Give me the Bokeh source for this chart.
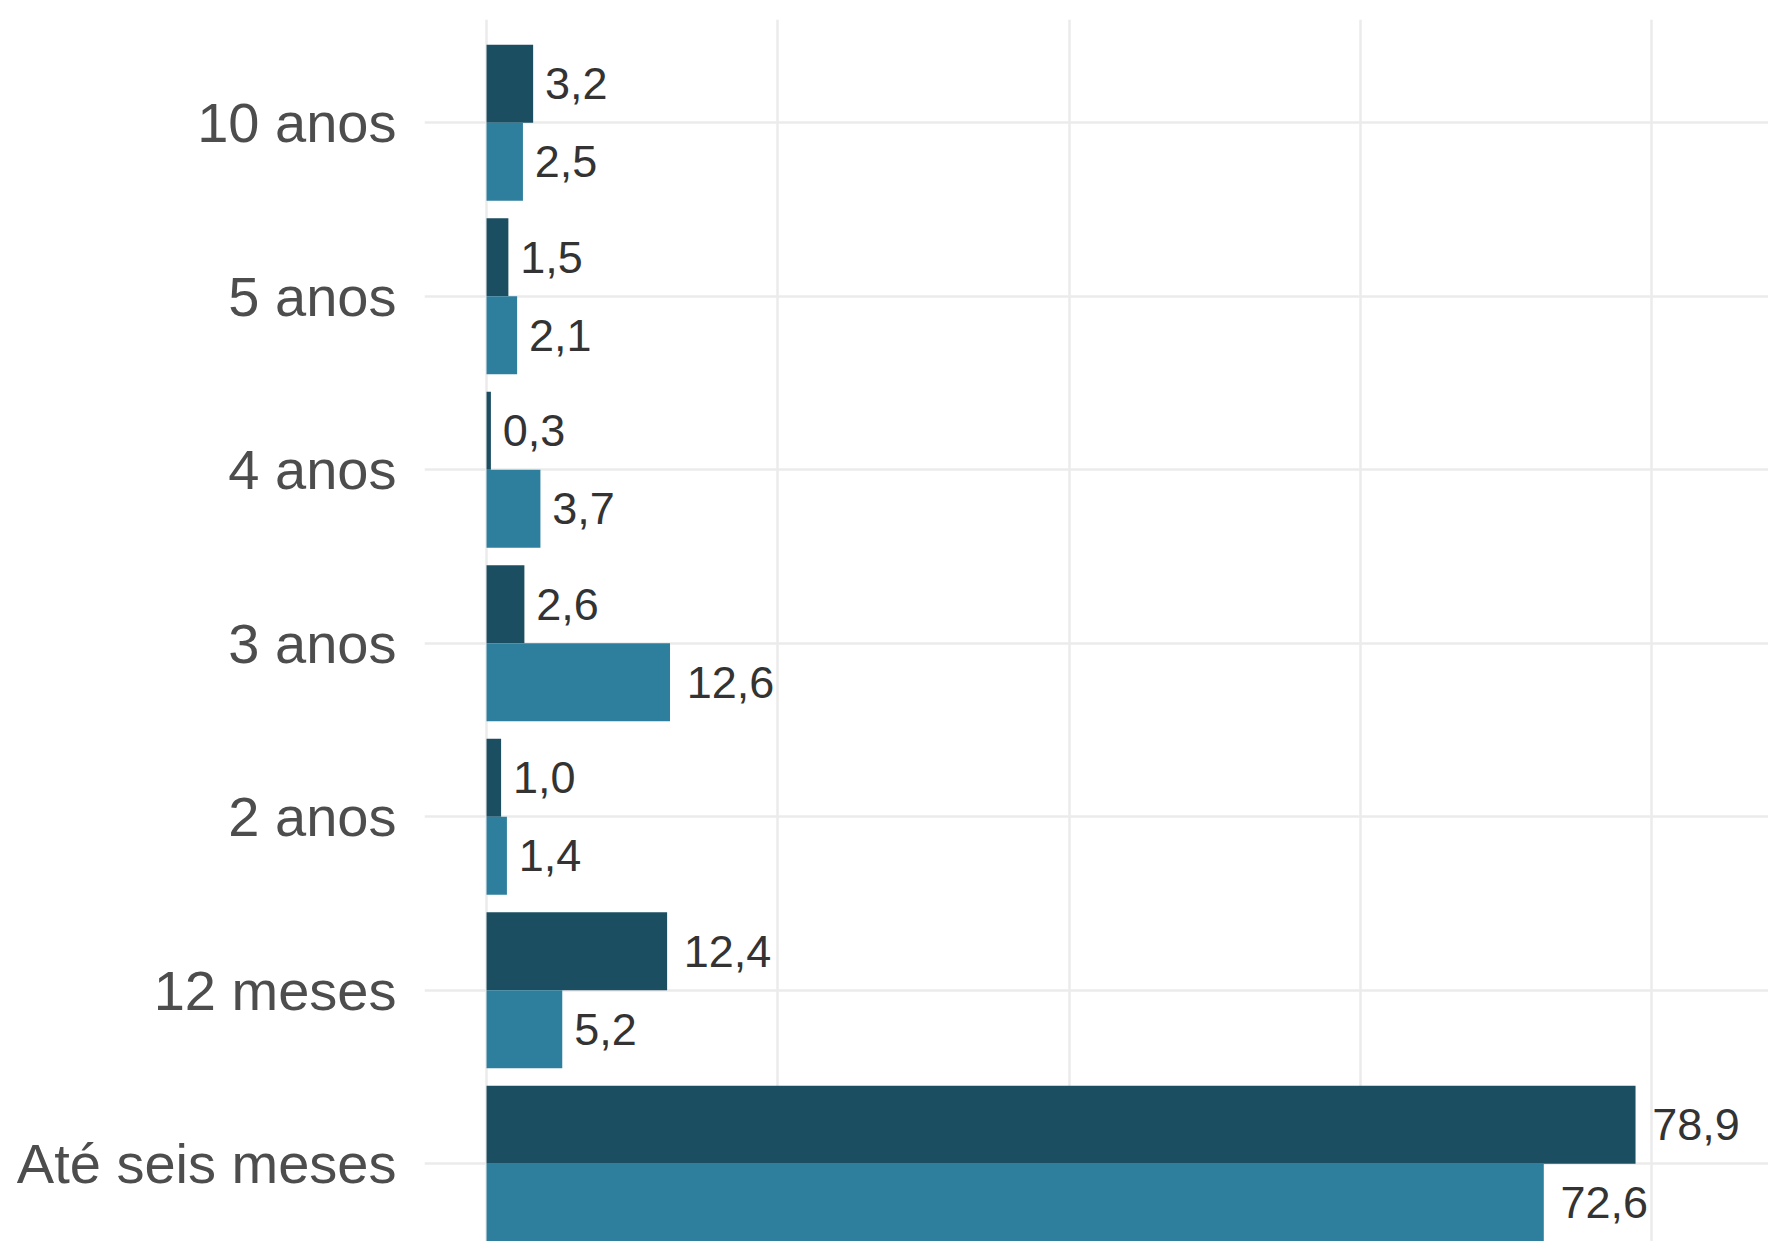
from bokeh.plotting import figure
from bokeh.models import ColumnDataSource, Range1d, FixedTicker
from bokeh.transform import dodge
from bokeh.core.properties import value
from bokeh.embed import file_html
from bokeh.resources import INLINE

# ---- data ----
categories = ["Até seis meses", "12 meses", "2 anos", "3 anos", "4 anos", "5 anos", "10 anos"]
serie_escura = [78.9, 12.4, 1.0, 2.6, 0.3, 1.5, 3.2]
serie_clara = [72.6, 5.2, 1.4, 12.6, 3.7, 2.1, 2.5]
x_ticks = [0, 20, 40, 60, 80]

DARK = "#1c4e62"
LIGHT = "#2e7f9e"
FONT = "Liberation Sans"
LABEL_PX = 45


def fmt(v):
    return f"{v:.1f}".replace(".", ",")


def text_offset(s):
    # emulate hjust = -0.2 : gap proportional to the label's width
    w = sum(0.278 if ch == "," else 0.556 for ch in s) * LABEL_PX
    return 0.19 * w


ypos = list(range(len(categories)))
lab_d = [fmt(v) for v in serie_escura]
lab_l = [fmt(v) for v in serie_clara]
src = ColumnDataSource(dict(
    y=ypos,
    dark=serie_escura,
    light=serie_clara,
    lab_d=lab_d,
    lab_l=lab_l,
    off_d=[text_offset(s) for s in lab_d],
    off_l=[text_offset(s) for s in lab_l],
))

p = figure(
    width=1768, height=1241,
    x_range=Range1d(-4.26, 88.03),
    y_range=Range1d(-0.448, 6.595),
    output_backend="svg", toolbar_location=None,
    min_border_left=424, min_border_right=0, min_border_top=19, min_border_bottom=0,
)
p.outline_line_color = None
p.background_fill_color = "white"
p.border_fill_color = "white"

p.hbar(y=dodge("y", 0.225, range=p.y_range), height=0.45, left=0, right="dark",
       source=src, fill_color=DARK, line_color=None)
p.hbar(y=dodge("y", -0.225, range=p.y_range), height=0.45, left=0, right="light",
       source=src, fill_color=LIGHT, line_color=None)

p.text(x="dark", y=dodge("y", 0.225, range=p.y_range), text="lab_d", x_offset="off_d",
       source=src, text_font=value(FONT), text_font_size=f"{LABEL_PX}px",
       text_color="#333333", text_align="left", text_baseline="middle")
p.text(x="light", y=dodge("y", -0.225, range=p.y_range), text="lab_l", x_offset="off_l",
       source=src, text_font=value(FONT), text_font_size=f"{LABEL_PX}px",
       text_color="#333333", text_align="left", text_baseline="middle")

# axes
p.xaxis.visible = False
p.yaxis.ticker = FixedTicker(ticks=ypos)
p.yaxis.major_label_overrides = {i: c for i, c in enumerate(categories)}
p.yaxis.axis_line_color = None
p.yaxis.major_tick_line_color = None
p.yaxis.minor_tick_line_color = None
p.yaxis.major_tick_out = 0
p.yaxis.major_tick_in = 0
p.yaxis.major_label_standoff = 28
p.yaxis.major_label_text_font = FONT
p.yaxis.major_label_text_font_size = "56px"
p.yaxis.major_label_text_color = "#4d4d4d"

# grids
p.xgrid.ticker = FixedTicker(ticks=x_ticks)
p.ygrid.ticker = FixedTicker(ticks=ypos)
p.xgrid.grid_line_color = "#ebebeb"
p.ygrid.grid_line_color = "#ebebeb"
p.xgrid.grid_line_width = 2.5
p.ygrid.grid_line_width = 2.5

open("out.html", "w").write(file_html(p, INLINE))
